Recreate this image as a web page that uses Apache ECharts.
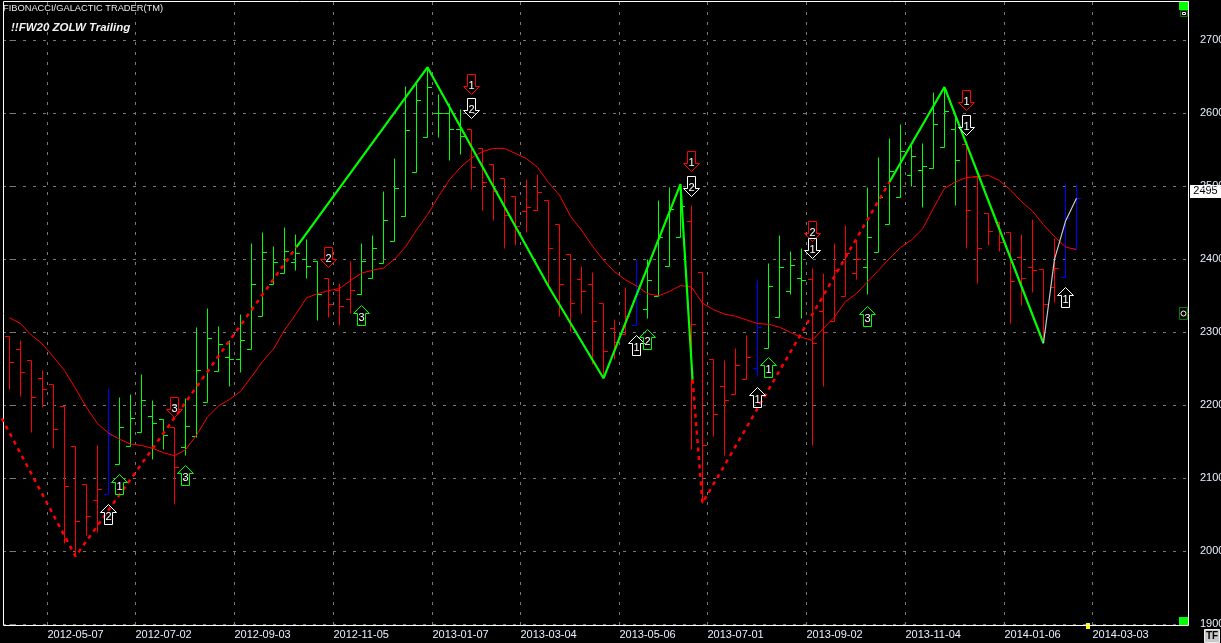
<!DOCTYPE html>
<html><head><meta charset="utf-8">
<style>html,body{margin:0;padding:0;background:#000;overflow:hidden}#c{width:1221px;height:643px}</style>
<script src="https://cdn.jsdelivr.net/npm/echarts@6/dist/echarts.min.js"></script>
</head><body><div id="c"></div>
<script>
// weekly OHLC bars, index = week position
const opens  = [2295,2277,2262,2237,2229,2199,2144,2092,2070,2078,2119,2144,2163,2185,2181,2170,2143,2158,2204,2247.5,2266,2264,2277,2322,2366,2381,2396,2401,2398,2375,2358,2346,2352,2375,2394.5,2425,2460,2519,2568,2601,2600,2579,2579,2553,2530,2511,2487,2466,2468,2481,2448,2407,2373,2366,2340,2306,2298,2310,2332,2350,2391,2431,2452,2382,2264,2226,2216,2236,2251,2279,2321,2357,2374,2373,2329,2316,2350,2381,2390,2410,2448,2485,2516,2523,2525,2554,2579,2558,2514,2463.5,2451,2437,2403,2389,2387,2362,2376,2415.5];
const highs  = [2295,2289.5,2262,2248,2229,2199,2144,2092,2146,2224,2211,2215.5,2243,2207,2181,2170,2210,2307,2333,2309,2289.5,2325,2422,2437,2418,2444,2434,2428,2398,2375,2367,2397,2422,2433,2494,2539,2637,2641,2663,2626,2614,2606,2579,2553,2530,2511,2487,2510,2517,2481,2448,2407,2391,2382,2340,2318,2362,2400,2401,2481,2499,2503,2474,2382,2264,2262,2279,2296,2373,2395,2433,2411,2416,2388,2381,2423,2447,2427,2499,2540,2566,2586,2559,2560,2629,2634,2598,2558,2514,2463.5,2451,2437,2434,2455,2387,2429,2505,2503];
const lows   = [2223,2213,2163,2198,2141,2011,1993,2022,2027,2078,2119,2144,2163,2126.5,2140,2065,2132,2157,2204,2247.5,2227,2246,2277,2322,2366,2381,2385,2375,2317,2321,2310,2326,2352,2375,2394.5,2425,2460,2519,2568,2568,2536,2544,2496,2468,2454,2416,2420,2438,2468,2363,2322,2302,2327,2257,2237,2263,2297,2310,2320,2350,2391,2431,2140,2066,2158,2132,2216,2236,2240,2279,2321,2353,2319,2146,2227,2316,2350,2373,2353,2410,2448,2485,2500,2471,2525,2554,2475,2415,2367,2420,2411,2313,2338,2355,2285,2341,2376,2415.5];
const closes = [2259,2245,2212,2222,2167,2090,2041,2048,2086,2159,2170,2182,2207,2176,2159,2116,2171,2249,2292,2284,2264,2289,2366,2410,2396,2412,2408,2391,2353,2339,2336,2358,2398,2415,2454,2498,2577,2618,2636,2600,2579,2569,2526,2506,2493,2461,2446,2471,2492,2415,2366,2340,2357,2315,2274,2287,2322,2353,2371,2430,2469,2473,2312,2145,2188,2207,2255,2266,2307,2363,2390,2392,2371,2286,2300,2385,2408,2400,2430,2486,2521,2548,2541.6,2528,2586,2603,2536,2467,2415.5,2439,2424,2370,2374,2385,2339,2388,2457,2483.5];
// trend state of each bar: d = falling, u = rising, b = switch week
const barTrend = ['d','d','d','d','d','d','d','d','d','b','u','u','u','u','u','d','u','u','u','u','u','u','u','u','u','u','u','u','u','d','d','d','u','u','u','u','u','u','u','u','u','u','d','d','d','d','d','d','d','d','d','d','d','d','d','d','d','b','u','u','u','u','d','d','d','d','d','d','b','u','u','u','u','d','d','d','d','d','u','u','u','u','u','u','u','u','u','d','d','d','d','d','d','d','d','d','b','b'];
// moving average
const maValues = [2320,2312,2296,2284,2266,2247.5,2223,2197,2175,2162,2153.5,2147,2145,2141,2135,2131,2139,2159,2184,2199,2208,2219,2239,2260,2277,2303,2324,2347,2353,2357,2360,2371,2381,2385,2388,2400,2417,2440,2461,2486,2509,2526,2539,2547.5,2552,2552,2545,2538,2526,2505,2488,2459,2440,2418,2399,2383,2372,2363.5,2353,2350,2356,2364,2362,2340,2331,2325,2322,2317,2312,2311,2307,2300,2293,2289,2305.5,2321,2342,2353,2369,2385,2401,2416,2426.5,2441.5,2470,2497,2506,2512,2513,2515,2508,2495,2479,2466,2447.5,2431,2417,2413];
// zigzag pivots
const zzRedA   = [[-0.7,2182],[6,1993],[26.1,2417]];
const zzGreenA = [[26.1,2417],[38,2663],[49,2363],[54,2237],[61,2503],[62.1,2235]];
const zzRedB   = [[62.1,2235],[63,2066],[80,2506]];
const zzGreenB = [[80,2506],[85,2636],[94,2285]];
const zzOpen   = [[94,2285],[95,2400],[96,2452],[97,2483.5]];
// signal arrows
const arrowWeek  = [10,9,16,15,29,32,42,42,62,62,57,58,69,68,73,73,78,87,87,96];
const arrowValue = [2092,2051,2104,2198,2403,2324,2640,2607,2534,2501,2282,2291,2252,2212,2439,2415,2323,2618,2584,2348];
const arrowCount = ['1','2','3','3','2','3','1','2','1','2','1','2','1','1','2','1','3','1','1','1'];
const arrowKind  = ['gu','wu','gu','rd','rd','gu','rd','wd','rd','wd','wu','gu','gu','wu','rd','wd','gu','rd','wd','wu'];
// axes
const dateTicks  = [3.45,11.45,20.45,29.45,38.45,46.45,55.45,63.45,72.45,81.45,90.45,98.45];
const dateLabels = ['2012-05-07','2012-07-02','2012-09-03','2012-11-05','2013-01-07','2013-03-04','2013-05-06','2013-07-01','2013-09-02','2013-11-04','2014-01-06','2014-03-03'];
const priceTicks = [1900,2000,2100,2200,2300,2400,2500,2600,2700];
const lastPrice  = 2495;

const trendColor = {d:'#ff0000',u:'#00ff00',b:'#0000ff'};
const arrowStroke = {g:'#00ff00',w:'#ffffff',r:'#ff0000'};
const FONT = '"Liberation Sans", Arial, sans-serif';
const GRID = '#787878';

const chart = echarts.init(document.getElementById('c'), null, {renderer:'canvas'});
const snap = v => Math.round(v) + 0.5;

const barData = opens.map((o,i)=>[i,o,highs[i],lows[i],closes[i]]);

function renderBar(params, api){
  const i = api.value(0);
  const x = snap(api.coord([i,0])[0]);
  const yo = snap(api.coord([i,api.value(1)])[1]);
  const yh = snap(api.coord([i,api.value(2)])[1]);
  const yl = snap(api.coord([i,api.value(3)])[1]);
  const yc = snap(api.coord([i,api.value(4)])[1]);
  const style = {stroke:trendColor[barTrend[params.dataIndex]], lineWidth:1, fill:null};
  return {type:'group',children:[
    {type:'line',shape:{x1:x,y1:yh,x2:x,y2:yl},style},
    {type:'line',shape:{x1:x-4.5,y1:yo,x2:x,y2:yo},style},
    {type:'line',shape:{x1:x,y1:yc,x2:x+4.5,y2:yc},style}
  ]};
}

function renderArrow(params, api){
  const p = api.coord([api.value(0),api.value(1)]);
  const cx = snap(p[0]), cy = snap(p[1]);
  const kind = arrowKind[params.dataIndex];
  const up = kind[1]==='u';
  const pts = up
    ? [[0,-10],[8,-2],[4,-2],[4,10],[-4,10],[-4,-2],[-8,-2]]
    : [[-4,-10],[4,-10],[4,2],[8,2],[0,10],[-8,2],[-4,2]];
  return {type:'group',children:[
    {type:'polygon',shape:{points:pts.map(q=>[cx+q[0],cy+q[1]])},
      style:{fill:'none',stroke:arrowStroke[kind[0]],lineWidth:1}},
    {type:'text',style:{x:cx,y:cy+(up?2:1),text:arrowCount[params.dataIndex],fill:'#ffffff',
      font:'11px '+FONT,align:'center',verticalAlign:'middle'}}
  ]};
}

function zz(data,color,dashed,width){
  return {type:'line',data,symbol:'none',smooth:false,clip:false,z:4,silent:true,animation:false,
    lineStyle:{color,width,type:dashed?[4,4.5]:'solid'}};
}

const option = {
  backgroundColor:'#000',
  animation:false,
  title:[
    {text:'FIBONACCI/GALACTIC TRADER(TM)',left:3,top:4,padding:0,
      textStyle:{color:'#e8e8e8',fontFamily:FONT,fontSize:9.3,fontWeight:'normal'}},
    {text:'!!FW20 ZOLW Trailing',left:11,top:22,padding:0,
      textStyle:{color:'#f2f2f2',fontFamily:FONT,fontSize:11.5,fontWeight:'bold',fontStyle:'italic'}}
  ],
  grid:{left:3,right:33,top:2,bottom:18,show:false,containLabel:false,outerBoundsMode:'none'},
  xAxis:{type:'value',min:-0.59,max:107.14,
    axisLine:{show:false},
    axisTick:{show:false,customValues:dateTicks},
    splitLine:{show:true,lineStyle:{color:GRID,type:[3,7],width:1}},
    axisLabel:{customValues:dateTicks,align:'left',margin:4,color:'#e6eeff',fontFamily:FONT,fontSize:11,
      showMinLabel:true,showMaxLabel:true,hideOverlap:false,
      formatter:v=>{const k=dateTicks.findIndex(t=>Math.abs(t-v)<0.01);return k>=0?dateLabels[k]:'';}}
  },
  yAxis:{type:'value',position:'right',min:1899,max:2752.5,
    axisLine:{show:false},
    axisTick:{show:true,length:5,customValues:priceTicks,lineStyle:{color:GRID}},
    splitLine:{show:true,lineStyle:{color:GRID,type:[3,7],width:1}},
    axisLabel:{customValues:priceTicks,margin:12,color:'#e6eeff',fontFamily:FONT,fontSize:11,align:'left',hideOverlap:false,
      formatter:v=>String(v)}
  },
  series:[
    {type:'custom',data:barData,encode:{x:0,y:[1,2,3,4]},renderItem:renderBar,z:2,clip:false,silent:true,animation:false},
    {type:'line',data:maValues.map((v,i)=>[i,v]),symbol:'none',z:3,silent:true,animation:false,
      lineStyle:{color:'#ff0000',width:1}},
    zz(zzRedA,'#ff0000',true,2.5),
    zz(zzGreenA,'#00ff00',false,2.2),
    zz(zzRedB,'#ff0000',true,2.5),
    zz(zzGreenB,'#00ff00',false,2.2),
    zz(zzOpen,'#c8c8c8',false,1.2),
    {type:'custom',z:6,silent:true,animation:false,clip:false,encode:{x:0,y:1},
      data:arrowWeek.map((w,i)=>[w,arrowValue[i]]),renderItem:renderArrow}
  ]
};
chart.setOption(option);

const priceY = chart.convertToPixel({yAxisIndex:0}, lastPrice);
chart.setOption({graphic:[
  {type:'rect',z:1,shape:{x:3.5,y:1.5,width:1185,height:624},style:{fill:'none',stroke:'#ffffff',lineWidth:1}},
  {type:'rect',shape:{x:1190,y:Math.round(priceY)-5,width:31,height:13},style:{fill:'#ffffff'}},
  {type:'text',style:{x:1205.5,y:Math.round(priceY)+1,text:String(lastPrice),fill:'#000',font:'11px '+FONT,align:'center',verticalAlign:'middle'}},
  {type:'rect',shape:{x:1179,y:2,width:9,height:8},style:{fill:'#00ff00'}},
  {type:'rect',shape:{x:1180.5,y:10.5,width:7,height:6},style:{fill:'#000',stroke:'#008000'}},
  {type:'rect',shape:{x:1182.5,y:12.5,width:3,height:2},style:{fill:'#000',stroke:'#ffffff'}},
  {type:'rect',shape:{x:1179.5,y:307.5,width:8,height:12},style:{fill:'#000',stroke:'#008000'}},
  {type:'circle',shape:{cx:1183.5,cy:313.5,r:2.5},style:{fill:'#000',stroke:'#ffffff'}},
  {type:'rect',shape:{x:1179,y:617,width:9,height:8},style:{fill:'#00ff00'}},
  {type:'rect',shape:{x:1086,y:623,width:4,height:6},style:{fill:'#ffff00'}},
  {type:'rect',shape:{x:1204.5,y:629.5,width:15,height:13},style:{fill:'#c8c8c8',stroke:'#eeeeee'}},
  {type:'text',style:{x:1212,y:636,text:'TF',fill:'#000',font:'bold 10px '+FONT,align:'center',verticalAlign:'middle'}}
]});
</script></body></html>
